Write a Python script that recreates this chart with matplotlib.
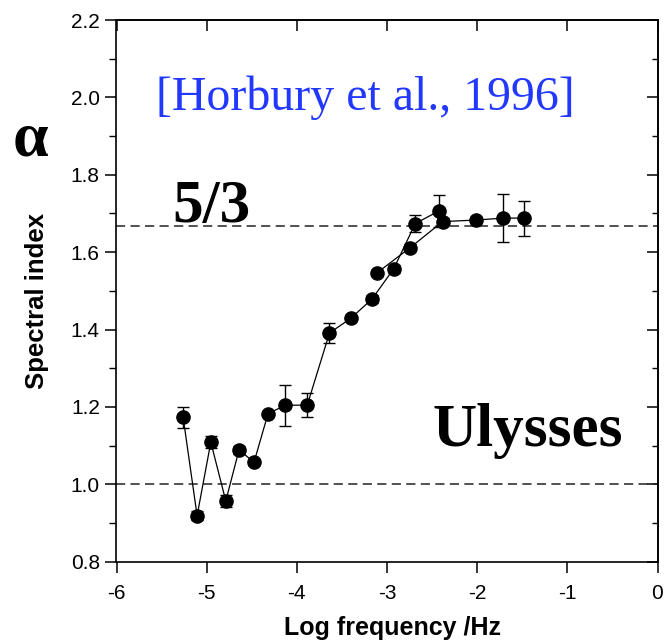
import matplotlib
matplotlib.use("Agg")
import matplotlib.pyplot as plt

# Spectral index vs. log frequency, two overlapping spectral estimates
low_x = [-5.261, -5.106, -4.954, -4.788, -4.641, -4.475, -4.320, -4.135,
         -3.884, -3.638, -3.402, -3.165, -2.926, -2.686, -2.420]
low_y = [1.173, 0.919, 1.109, 0.957, 1.089, 1.057, 1.182, 1.204,
         1.205, 1.391, 1.429, 1.479, 1.557, 1.674, 1.707]
low_err = [0.028, 0.012, 0.015, 0.016, 0.010, 0.008, 0.006, 0.053,
           0.032, 0.026, 0.008, 0.010, 0.010, 0.021, 0.042]

high_x = [-3.114, -2.741, -2.384, -2.008, -1.712, -1.480]
high_y = [1.546, 1.612, 1.679, 1.683, 1.688, 1.688]
high_err = [0.008, 0.008, 0.010, 0.008, 0.063, 0.045]

ref_levels = [5 / 3, 1.0]

x_ticks = [-6, -5, -4, -3, -2, -1, 0]
y_ticks = [0.8, 1.0, 1.2, 1.4, 1.6, 1.8, 2.0, 2.2]

W, H = 664, 642
fig = plt.figure(figsize=(W / 100, H / 100), dpi=100)
ax = fig.add_axes([116.5 / W, 1 - 561.7 / H, (657.5 - 116.5) / W, (561.7 - 20) / H])

sans = ["Liberation Sans", "DejaVu Sans"]
serif = ["Liberation Serif", "DejaVu Serif"]

for lvl in ref_levels:
    ax.axhline(lvl, color="#222222", lw=1.1, ls=(0, (6, 3.5)), zorder=1)

for xs, ys, es in [(low_x, low_y, low_err), (high_x, high_y, high_err)]:
    ax.errorbar(xs, ys, yerr=es, fmt="-o", color="black", lw=0.9,
                elinewidth=1.0, capsize=4.5, capthick=1.0,
                markersize=9.5, zorder=3)

ax.set_xlim(-6, 0)
ax.set_ylim(0.8, 2.2)
ax.set_xticks(x_ticks)
ax.set_yticks(y_ticks)
ax.set_xticklabels([str(t) for t in x_ticks], family=sans, fontsize=15)
ax.set_yticklabels([f"{t:.1f}" for t in y_ticks], family=sans, fontsize=15)
ax.yaxis.set_minor_locator(matplotlib.ticker.MultipleLocator(0.1))
ax.tick_params(axis="both", which="major", direction="out", length=8, width=1.1, pad=4)
ax.tick_params(axis="x", which="major", pad=8)
ax.tick_params(axis="y", which="minor", direction="out", length=5, width=1.0)
for sp in ax.spines.values():
    sp.set_linewidth(1.2)

# inward ticks on top and right
top = ax.secondary_xaxis("top")
top.set_xticks(x_ticks)
top.tick_params(direction="in", length=8, width=1.1, labeltop=False)
right = ax.secondary_yaxis("right")
right.set_yticks(y_ticks)
right.yaxis.set_minor_locator(matplotlib.ticker.MultipleLocator(0.1))
right.tick_params(which="major", direction="in", length=8, width=1.1, labelright=False)
right.tick_params(which="minor", direction="in", length=4, width=1.0)
top.spines["top"].set_linewidth(1.2)
right.spines["right"].set_linewidth(1.2)

fig.text(37 / W, 1 - 301 / H, "Spectral index", rotation=90, ha="center", va="center",
         family=sans, fontsize=18.5, fontweight="bold")
fig.text(392 / W, 1 - 628 / H, "Log frequency /Hz", ha="center", va="center",
         family=sans, fontsize=18, fontweight="bold")

ax.text(-3.245, 2.0, "[Horbury et al., 1996]", ha="center", va="center",
        family=serif, fontsize=34.5, color="#2238ff")
ax.text(-4.949, 1.678, "5/3", ha="center", va="baseline",
        family=serif, fontsize=44, fontweight="bold", color="black")
ax.text(-1.436, 1.10, "Ulysses", ha="center", va="baseline",
        family=serif, fontsize=44, fontweight="bold", color="black")
fig.text(30 / W, 1 - 140 / H, "\u03b1", ha="center", va="center",
         family=serif, fontsize=46, fontweight="bold", color="black")

fig.savefig("out.png", dpi=100)
